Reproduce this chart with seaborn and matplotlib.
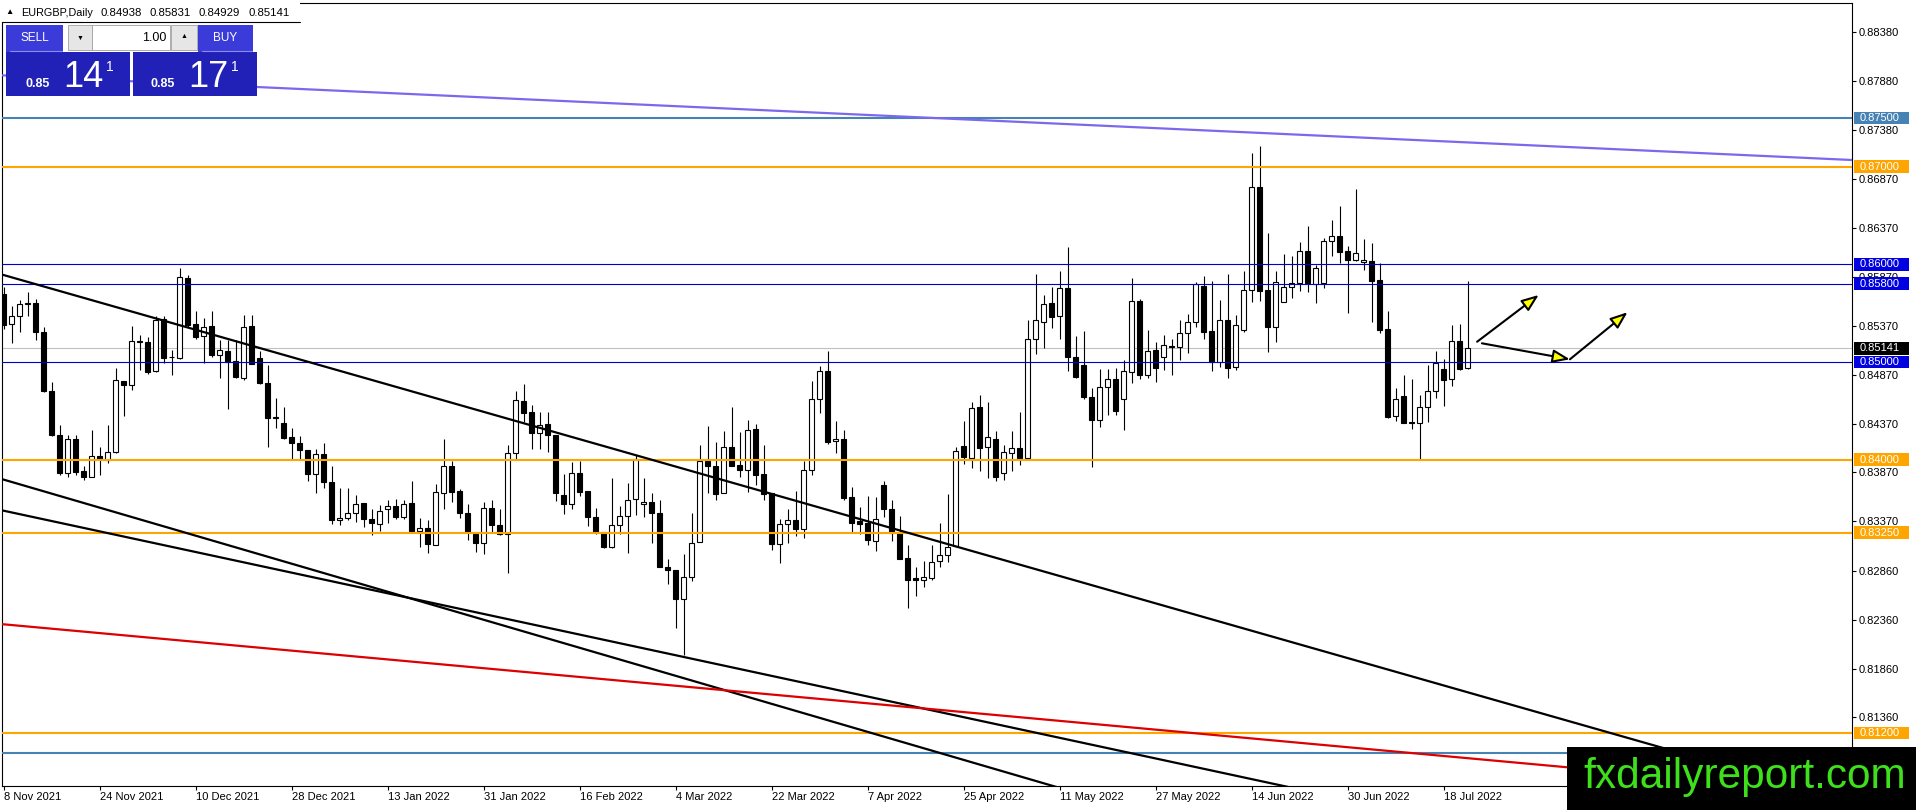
import numpy as np
import matplotlib
matplotlib.use("Agg")
import matplotlib.pyplot as plt
from matplotlib.patches import Rectangle
import seaborn as sns

sns.set_style("white")
plt.rcParams["font.family"] = ["Liberation Sans", "DejaVu Sans"]

# Daily EURGBP candles, 8 Nov 2021 .. 21 Jul 2022
opens = [
    0.8570, 0.8539, 0.8547, 0.8559, 0.8560, 0.8531, 0.8470, 0.8425, 0.8386, 0.8421,
    0.8388, 0.8382, 0.8404, 0.8400, 0.8408, 0.8481, 0.8476, 0.8521, 0.8521, 0.8491,
    0.8544, 0.8505, 0.8504, 0.8586, 0.8539, 0.8527, 0.8537, 0.8507, 0.8511, 0.8501,
    0.8484, 0.8537, 0.8504, 0.8479, 0.8443, 0.8438, 0.8423, 0.8417, 0.8410, 0.8385,
    0.8406, 0.8377, 0.8338, 0.8340, 0.8345, 0.8356, 0.8339, 0.8334, 0.8349, 0.8353,
    0.8341, 0.8356, 0.8327, 0.8330, 0.8313, 0.8366, 0.8394, 0.8368, 0.8345, 0.8324,
    0.8315, 0.8350, 0.8333, 0.8324, 0.8407, 0.8460, 0.8449, 0.8427, 0.8437, 0.8425,
    0.8364, 0.8355, 0.8386, 0.8368, 0.8341, 0.8326, 0.8311, 0.8333, 0.8342, 0.8360,
    0.8355, 0.8357, 0.8345, 0.8290, 0.8287, 0.8257, 0.8280, 0.8316, 0.8399, 0.8394,
    0.8366, 0.8413, 0.8395, 0.8389, 0.8431, 0.8385, 0.8366, 0.8314, 0.8334, 0.8338,
    0.8329, 0.8389, 0.8462, 0.8491, 0.8419, 0.8421, 0.8362, 0.8337, 0.8335, 0.8317,
    0.8374, 0.8349, 0.8325, 0.8299, 0.8279, 0.8277, 0.8279, 0.8296, 0.8302, 0.8312,
    0.8414, 0.8402, 0.8454, 0.8413, 0.8421, 0.8386, 0.8407, 0.8412, 0.8402, 0.8524,
    0.8541, 0.8560, 0.8547, 0.8576, 0.8505, 0.8497, 0.8464, 0.8441, 0.8474, 0.8483,
    0.8462, 0.8490, 0.8563, 0.8487, 0.8512, 0.8505, 0.8516, 0.8515, 0.8530, 0.8541,
    0.8578, 0.8532, 0.8500, 0.8543, 0.8495, 0.8533, 0.8574, 0.8679, 0.8574, 0.8536,
    0.8561, 0.8577, 0.8581, 0.8614, 0.8580, 0.8581, 0.8624, 0.8629, 0.8614, 0.8605,
    0.8602, 0.8604, 0.8584, 0.8534, 0.8445, 0.8465, 0.8439, 0.8438, 0.8454, 0.8470,
    0.8493, 0.8483, 0.8522, 0.84938,
]
highs = [
    0.8577, 0.8557, 0.8564, 0.8572, 0.8565, 0.8536, 0.8480, 0.8436, 0.8425, 0.8425,
    0.8393, 0.8430, 0.8413, 0.8435, 0.8494, 0.8481, 0.8537, 0.8528, 0.8526, 0.8547,
    0.8547, 0.8512, 0.8596, 0.8589, 0.8552, 0.8545, 0.8552, 0.8523, 0.8523, 0.8523,
    0.8548, 0.8548, 0.8511, 0.8497, 0.8463, 0.8454, 0.8432, 0.8424, 0.8410, 0.8411,
    0.8417, 0.8394, 0.8371, 0.8371, 0.8364, 0.8356, 0.8349, 0.8354, 0.8359, 0.8360,
    0.8359, 0.8378, 0.8340, 0.8338, 0.8375, 0.8421, 0.8399, 0.8370, 0.8355, 0.8326,
    0.8357, 0.8359, 0.8349, 0.8415, 0.8470, 0.8477, 0.8456, 0.8449, 0.8449, 0.8425,
    0.8385, 0.8398, 0.8399, 0.8368, 0.8350, 0.8326, 0.8381, 0.8353, 0.8376, 0.8405,
    0.8381, 0.8366, 0.8359, 0.8298, 0.8287, 0.8303, 0.8345, 0.8415, 0.8434, 0.8418,
    0.8429, 0.8454, 0.8428, 0.8441, 0.8437, 0.8415, 0.8366, 0.8339, 0.8349, 0.8368,
    0.8399, 0.8481, 0.8496, 0.8511, 0.8440, 0.8430, 0.8372, 0.8351, 0.8363, 0.8362,
    0.8378, 0.8359, 0.8342, 0.8313, 0.8290, 0.8296, 0.8313, 0.8335, 0.8365, 0.8413,
    0.8440, 0.8459, 0.8466, 0.8459, 0.8429, 0.8415, 0.8429, 0.8449, 0.8543, 0.8590,
    0.8569, 0.8577, 0.8593, 0.8618, 0.8527, 0.8532, 0.8473, 0.8493, 0.8493, 0.8494,
    0.8502, 0.8586, 0.8565, 0.8533, 0.8521, 0.8528, 0.8524, 0.8543, 0.8549, 0.8582,
    0.8588, 0.8583, 0.8564, 0.8590, 0.8548, 0.8593, 0.8714, 0.8721, 0.8632, 0.8593,
    0.8611, 0.8609, 0.8623, 0.8639, 0.8599, 0.8627, 0.8645, 0.8660, 0.8619, 0.8677,
    0.8626, 0.8622, 0.8601, 0.8552, 0.8473, 0.8487, 0.8483, 0.8466, 0.8497, 0.8511,
    0.8503, 0.8538, 0.8539, 0.85831,
]
lows = [
    0.8534, 0.8519, 0.8531, 0.8547, 0.8523, 0.8469, 0.8424, 0.8384, 0.8382, 0.8384,
    0.8379, 0.8382, 0.8384, 0.8397, 0.8407, 0.8445, 0.8471, 0.8492, 0.8488, 0.8490,
    0.8499, 0.8487, 0.8503, 0.8536, 0.8524, 0.8499, 0.8505, 0.8484, 0.8452, 0.8484,
    0.8482, 0.8498, 0.8477, 0.8413, 0.8432, 0.8421, 0.8401, 0.8401, 0.8378, 0.8366,
    0.8371, 0.8334, 0.8333, 0.8338, 0.8336, 0.8331, 0.8323, 0.8327, 0.8335, 0.8339,
    0.8339, 0.8327, 0.8311, 0.8304, 0.8313, 0.8349, 0.8357, 0.8340, 0.8318, 0.8305,
    0.8303, 0.8325, 0.8323, 0.8284, 0.8401, 0.8439, 0.8411, 0.8411, 0.8408, 0.8358,
    0.8344, 0.8349, 0.8363, 0.8332, 0.8324, 0.8310, 0.8309, 0.8324, 0.8304, 0.8343,
    0.8341, 0.8315, 0.8290, 0.8273, 0.8228, 0.8200, 0.8276, 0.8316, 0.8366, 0.8359,
    0.8366, 0.8394, 0.8382, 0.8367, 0.8374, 0.8359, 0.8307, 0.8294, 0.8315, 0.8322,
    0.8320, 0.8384, 0.8448, 0.8416, 0.8407, 0.8359, 0.8326, 0.8324, 0.8313, 0.8306,
    0.8341, 0.8317, 0.8298, 0.8248, 0.8260, 0.8270, 0.8277, 0.8290, 0.8295, 0.8312,
    0.8396, 0.8391, 0.8388, 0.8381, 0.8378, 0.8379, 0.8388, 0.8395, 0.8402, 0.8508,
    0.8514, 0.8535, 0.8524, 0.8491, 0.8484, 0.8462, 0.8392, 0.8433, 0.8446, 0.8446,
    0.8430, 0.8479, 0.8483, 0.8484, 0.8480, 0.8492, 0.8487, 0.8502, 0.8509, 0.8536,
    0.8524, 0.8491, 0.8495, 0.8484, 0.8492, 0.8531, 0.8562, 0.8563, 0.8510, 0.8521,
    0.8561, 0.8566, 0.8573, 0.8572, 0.8560, 0.8576, 0.8609, 0.8601, 0.8550, 0.8603,
    0.8594, 0.8541, 0.8530, 0.8443, 0.8440, 0.8438, 0.8431, 0.8400, 0.8439, 0.8463,
    0.8455, 0.8475, 0.8492, 0.84929,
]
closes = [
    0.8538, 0.8547, 0.8559, 0.8560, 0.8531, 0.8470, 0.8425, 0.8386, 0.8421, 0.8387,
    0.8382, 0.8404, 0.8401, 0.8408, 0.8482, 0.8476, 0.8522, 0.8522, 0.8490, 0.8543,
    0.8504, 0.8505, 0.8587, 0.8538, 0.8526, 0.8536, 0.8507, 0.8512, 0.8500, 0.8485,
    0.8536, 0.8498, 0.8479, 0.8443, 0.8444, 0.8422, 0.8417, 0.8410, 0.8385, 0.8406,
    0.8377, 0.8338, 0.8340, 0.8345, 0.8355, 0.8339, 0.8335, 0.8347, 0.8353, 0.8341,
    0.8355, 0.8327, 0.8330, 0.8314, 0.8367, 0.8394, 0.8367, 0.8345, 0.8326, 0.8315,
    0.8350, 0.8333, 0.8324, 0.8407, 0.8461, 0.8448, 0.8427, 0.8436, 0.8425, 0.8366,
    0.8355, 0.8386, 0.8367, 0.8341, 0.8326, 0.8311, 0.8333, 0.8342, 0.8359, 0.8401,
    0.8357, 0.8345, 0.8290, 0.8287, 0.8257, 0.8280, 0.8315, 0.8399, 0.8394, 0.8365,
    0.8413, 0.8394, 0.8389, 0.8430, 0.8384, 0.8365, 0.8314, 0.8334, 0.8338, 0.8329,
    0.8389, 0.8462, 0.8491, 0.8418, 0.8421, 0.8361, 0.8335, 0.8334, 0.8318, 0.8339,
    0.8349, 0.8325, 0.8298, 0.8277, 0.8277, 0.8280, 0.8295, 0.8302, 0.8311, 0.8409,
    0.8403, 0.8453, 0.8412, 0.8423, 0.8382, 0.8408, 0.8412, 0.8402, 0.8524, 0.8543,
    0.8559, 0.8546, 0.8576, 0.8505, 0.8485, 0.8464, 0.8441, 0.8474, 0.8483, 0.8450,
    0.8491, 0.8563, 0.8487, 0.8511, 0.8494, 0.8517, 0.8515, 0.8530, 0.8541, 0.8580,
    0.8531, 0.8500, 0.8543, 0.8494, 0.8538, 0.8574, 0.8679, 0.8573, 0.8536, 0.8582,
    0.8577, 0.8581, 0.8614, 0.8581, 0.8596, 0.8624, 0.8629, 0.8613, 0.8605, 0.8612,
    0.8605, 0.8583, 0.8533, 0.8444, 0.8462, 0.8438, 0.8438, 0.8454, 0.8470, 0.8499,
    0.8482, 0.8522, 0.8493, 0.85141,
]

date_labels = [
    "8 Nov 2021", "24 Nov 2021", "10 Dec 2021", "28 Dec 2021", "13 Jan 2022",
    "31 Jan 2022", "16 Feb 2022", "4 Mar 2022", "22 Mar 2022", "7 Apr 2022",
    "25 Apr 2022", "11 May 2022", "27 May 2022", "14 Jun 2022", "30 Jun 2022",
    "18 Jul 2022",
]
price_ticks = [0.88380, 0.87880, 0.87380, 0.86870, 0.86370, 0.85870, 0.85370,
               0.84870, 0.84370, 0.83870, 0.83370, 0.82860, 0.82360, 0.81860, 0.81360]

# horizontal levels: value, colour, width
levels = [0.8750, 0.8700, 0.8600, 0.8580, 0.8500, 0.8400, 0.8325, 0.8120, 0.8100]
level_colors = ["#4682b4", "#ffa500", "#0000cd", "#0000cd", "#0000cd",
                "#ffa500", "#ffa500", "#ffa500", "#4682b4"]
level_widths = [1.5, 1.5, 0.8, 0.8, 0.8, 1.5, 1.5, 1.5, 1.5]
last_price = 0.85141

# trend lines (bar index, price)
trend_black_1 = ([-1, 232], [0.85915, 0.80473])
trend_black_2 = ([-1, 150], [0.83820, 0.80207])
trend_black_3 = ([-1, 175], [0.83495, 0.80393])
trend_red = ([-1, 232], [0.82321, 0.80575])
trend_purple = ([-1, 232], [0.87940, 0.87066])

# arrows (start, tip)
arrows = [
    ((184.2, 0.85208), (191.9, 0.85687)),
    ((184.8, 0.85192), (195.8, 0.85028)),
    ((195.8, 0.85028), (203.0, 0.85510)),
]

W, H = 1916, 810
fig = plt.figure(figsize=(W / 100, H / 100), dpi=100)
fig.patch.set_facecolor("white")

# plot area in pixels
left_px, right_px, top_px, bottom_px = 2, 1852, 2.7, 786
ax = fig.add_axes([left_px / W, 1 - bottom_px / H,
                   (right_px - left_px) / W, (bottom_px - top_px) / H])
ax.set_facecolor("white")
ax.set_xlim(-0.1875, 231.06)
ax.set_ylim(0.80657, 0.88681)

##########################################
# Candles
##########################################
o = np.array(opens)
hi = np.array(highs)
lo = np.array(lows)
c = np.array(closes)
x = np.arange(len(o))
up = c > o

ax.vlines(x, lo, hi, color="black", linewidth=0.8, zorder=3)
ax.bar(x, np.abs(c - o), bottom=np.minimum(o, c), width=0.62,
       color=np.where(up, "white", "black"), edgecolor="black",
       linewidth=0.8, zorder=4)

##########################################
# Levels and trend lines
##########################################
for val, col, lw in zip(levels, level_colors, level_widths):
    ax.axhline(val, color=col, linewidth=lw, zorder=5)
ax.axhline(last_price, color="#c0c0c0", linewidth=0.8, zorder=2)

for (tx, ty), col in [(trend_black_1, "black"), (trend_black_2, "black"),
                      (trend_black_3, "black"), (trend_red, "#dd0000"),
                      (trend_purple, "#7b68ee")]:
    sns.lineplot(x=tx, y=ty, ax=ax, color=col, linewidth=1.6, zorder=6)

for start, tip in arrows:
    ax.annotate("", xy=tip, xytext=start, zorder=7,
                arrowprops=dict(arrowstyle="-|>,head_length=0.65,head_width=0.25",
                                mutation_scale=16, fc="#ffff00", ec="black",
                                lw=1.5, shrinkA=0, shrinkB=0))

##########################################
# Axes
##########################################
for side in ["left", "right", "top", "bottom"]:
    ax.spines[side].set_color("black")
    ax.spines[side].set_linewidth(0.8)

ax.yaxis.tick_right()
ax.set_yticks(price_ticks)
ax.set_yticklabels([f"{v:.5f}" for v in price_ticks])
ax.tick_params(axis="y", right=True, left=False, length=3, width=0.8, pad=2,
               labelsize=8, colors="black", direction="out")

ax.set_xticks(np.arange(len(date_labels)) * 12)
ax.set_xticklabels(date_labels)
for lab in ax.get_xticklabels():
    lab.set_horizontalalignment("left")
ax.tick_params(axis="x", bottom=True, length=3, width=0.8, pad=1.5,
               labelsize=8, colors="black", direction="out")
ax.set_xlabel("")
ax.set_ylabel("")
ax.grid(False)

# coloured price boxes on the right scale
trans = ax.get_yaxis_transform()
span = right_px - left_px
box_vals = [0.8750, 0.8700, 0.8600, 0.8580, 0.8500, 0.8400, 0.8325, 0.8120, last_price]
box_cols = ["#4682b4", "#ffa500", "#0000e0", "#0000e0", "#0000e0",
            "#ffa500", "#ffa500", "#ffa500", "black"]
for val, col in zip(box_vals, box_cols):
    ax.add_patch(Rectangle(((1854 - left_px) / span, val - 0.00066), 55 / span, 0.00132,
                           transform=trans, facecolor=col, edgecolor="none",
                           clip_on=False, zorder=8))
    ax.text((1860 - left_px) / span, val, f"{val:.5f}", transform=trans,
            color="white", fontsize=8, va="center", ha="left", clip_on=False, zorder=9)

##########################################
# Overlay: header, trade panel, watermark
##########################################
ov = fig.add_axes([0, 0, 1, 1], zorder=10)
ov.set_xlim(0, W)
ov.set_ylim(H, 0)
ov.axis("off")
ov.patch.set_alpha(0)


def box(x0, y0, x1, y1, fc, ec="none", lw=0):
    ov.add_patch(Rectangle((x0, y0), x1 - x0, y1 - y0, facecolor=fc,
                           edgecolor=ec, linewidth=lw))


box(0, 0, 300, 21.7, "white")
ov.plot([2, 300], [21.7, 21.7], color="black", linewidth=0.8)

ov.text(5, 13, "▲", fontsize=6, va="center", ha="left", color="black")
ov.text(21, 13, "EURGBP,Daily", fontsize=7.8, va="center", ha="left", color="black")
for hx, hv in zip([101, 150, 199, 249], ["0.84938", "0.85831", "0.84929", "0.85141"]):
    ov.text(hx, 13, hv, fontsize=8.2, va="center", ha="left", color="black")

btn_blue = "#3b3bd9"
price_blue = "#2121b8"
box(6, 25, 63, 52, btn_blue)
ov.plot([10, 62], [51, 51], color="#8c8cf0", linewidth=0.8)
ov.text(34.5, 38, "SELL", fontsize=8.5, color="white", ha="center", va="center")
box(68, 25, 92, 50, "#e6e6e6", "#a0a0a0", 0.6)
ov.text(80, 38, "▼", fontsize=5, color="black", ha="center", va="center")
box(92, 25, 170, 50, "white", "#a0a0a0", 0.6)
ov.text(166, 38, "1.00", fontsize=9, color="black", ha="right", va="center")
box(171, 25, 197, 50, "#e6e6e6", "#a0a0a0", 0.6)
ov.text(184, 37, "▲", fontsize=5, color="black", ha="center", va="center")
box(198, 25, 253, 52, btn_blue)
ov.plot([202, 252], [51, 51], color="#8c8cf0", linewidth=0.8)
ov.text(225.5, 38, "BUY", fontsize=8.5, color="white", ha="center", va="center")

box(6, 52, 130, 96, price_blue)
box(133, 52, 257, 96, price_blue)
for bx, big in [(26, "14"), (151, "17")]:
    ov.text(bx, 87, "0.85", fontsize=9, fontweight="bold", color="white",
            ha="left", va="baseline")
    ov.text(bx + 37, 87, big, fontsize=26, color="white", ha="left", va="baseline")
    ov.text(bx + 80, 60, "1", fontsize=10, color="white", ha="left", va="top")

box(1567, 747, 1916, 810, "black")
ov.text(1583, 788, "fxdailyreport.com", fontsize=30.5, color="#3ee01c",
        ha="left", va="baseline")

fig.savefig("out.png", dpi=100, facecolor="white")
